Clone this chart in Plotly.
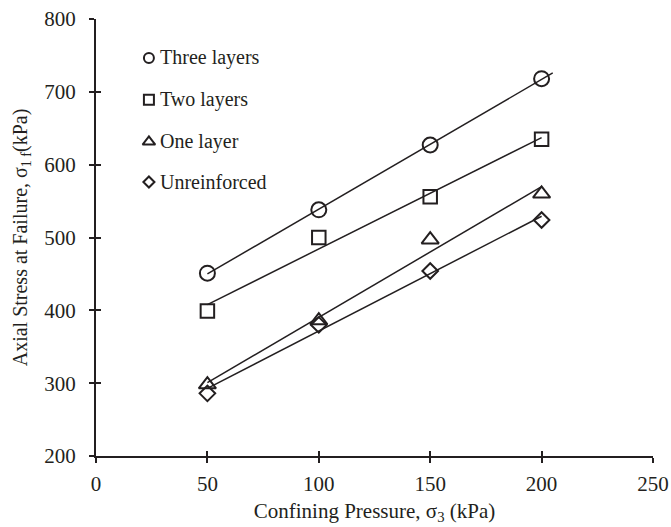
import numpy as np
import plotly.graph_objects as go

# Confining pressure (kPa) and axial stress at failure (kPa) for each specimen set
confining = [50, 100, 150, 200]
series_names = ["Three layers", "Two layers", "One layer", "Unreinforced"]
three_layers = [451, 538, 627, 718]
two_layers = [399, 500, 556, 635]
one_layer = [298, 386, 497, 560]
unreinforced = [286, 380, 454, 524]
# end of each linear trend line (kPa of confining pressure)
trend_end = [205, 200, 200, 200]

x_ticks = [0, 50, 100, 150, 200, 250]
y_ticks = [200, 300, 400, 500, 600, 700, 800]

INK = "#231f20"
FONT = "Liberation Serif"

series_values = [three_layers, two_layers, one_layer, unreinforced]
symbols = ["circle-open", "square-open", "triangle-up-open", "diamond-open"]
plot_sizes = [15, 13.5, 15, 12]
key_sizes = [10, 10, 11, 8.5]

fig = go.Figure()

for name, vals, sym, size, x_end in zip(series_names, series_values, symbols, plot_sizes, trend_end):
    slope, intercept = np.polyfit(confining, vals, 1)
    xs = np.array([confining[0], x_end], dtype=float)
    fig.add_trace(go.Scatter(
        x=xs, y=slope * xs + intercept, mode="lines",
        line=dict(color=INK, width=1.5), showlegend=False, hoverinfo="skip",
    ))
    fig.add_trace(go.Scatter(
        x=confining, y=vals, mode="markers", name=name,
        marker=dict(symbol=sym, size=size, color=INK, line=dict(color=INK, width=2)),
        showlegend=False,
    ))

# overlay axes supply the inner half of the crossing tick marks
fig.add_trace(go.Scatter(x=[x_ticks[0]], y=[y_ticks[0]], xaxis="x2", yaxis="y2",
                         mode="markers", marker=dict(opacity=0), showlegend=False,
                         hoverinfo="skip"))

# key drawn inside the plot area
key_x = 0.095
key_text_x = 0.112
key_rows = [0.911, 0.815, 0.719, 0.627]
for name, sym, size, ky in zip(series_names, symbols, key_sizes, key_rows):
    fig.add_trace(go.Scatter(
        x=[key_x], y=[ky], xaxis="x3", yaxis="y3", mode="markers",
        marker=dict(symbol=sym, size=size, color=INK, line=dict(color=INK, width=2)),
        showlegend=False, hoverinfo="skip",
    ))
    fig.add_annotation(x=key_text_x, y=ky, xref="paper", yref="paper",
                       text=name, showarrow=False, xanchor="left", yanchor="middle",
                       font=dict(family=FONT, size=20, color=INK))

axis_common = dict(showgrid=False, zeroline=False, showline=True, linecolor=INK,
                   linewidth=2, ticks="outside", ticklen=5, tickwidth=2, tickcolor=INK,
                   automargin=False,
                   tickfont=dict(family=FONT, size=21, color=INK))

fig.update_layout(
    width=671, height=527,
    margin=dict(l=96, r=18, t=19, b=71, autoexpand=False),
    paper_bgcolor="white", plot_bgcolor="white",
    showlegend=False,
    font=dict(family=FONT, size=20, color=INK),
    xaxis=dict(range=[0, 250], tickvals=x_ticks, ticklabelstandoff=3,
               title=dict(text="Confining Pressure, σ<sub>3</sub> (kPa)",
                          font=dict(family=FONT, size=21, color=INK), standoff=8),
               **axis_common),
    yaxis=dict(range=[200, 800], tickvals=y_ticks, ticklabelstandoff=9,
               title=dict(text="Axial Stress at Failure, σ<sub>1 f</sub>(kPa)",
                          font=dict(family=FONT, size=20, color=INK), standoff=11),
               **axis_common),
    xaxis2=dict(range=[0, 250], tickvals=x_ticks, overlaying="x", anchor="y2",
                ticks="inside", ticklen=5, tickwidth=2, tickcolor=INK, automargin=False,
                showticklabels=False, showgrid=False, zeroline=False, showline=False),
    yaxis2=dict(range=[200, 800], tickvals=y_ticks, overlaying="y", anchor="x2",
                ticks="inside", ticklen=5, tickwidth=2, tickcolor=INK, automargin=False,
                showticklabels=False, showgrid=False, zeroline=False, showline=False),
    xaxis3=dict(range=[0, 1], overlaying="x", anchor="y3", visible=False),
    yaxis3=dict(range=[0, 1], overlaying="y", anchor="x3", visible=False),
)

fig.write_html("out.html")
